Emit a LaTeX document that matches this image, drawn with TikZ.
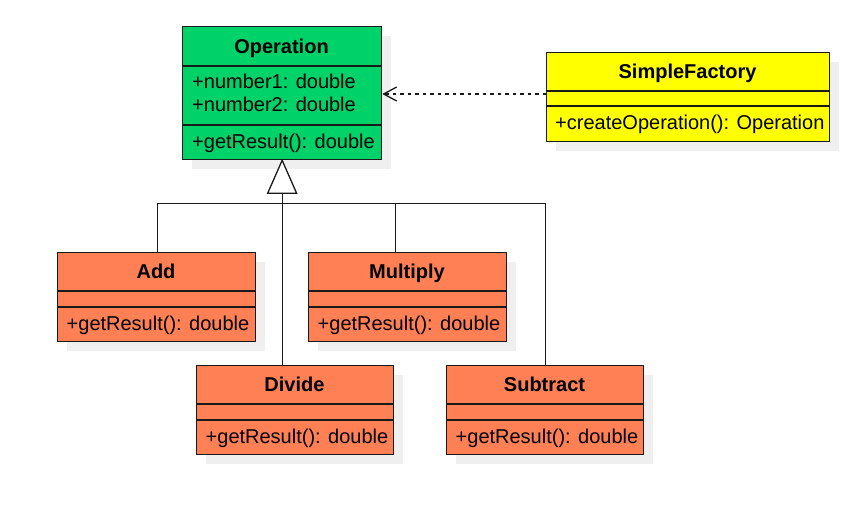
\documentclass[tikz,border=0pt]{standalone}
\usepackage{fontspec}
\setmainfont{Liberation Sans}
\usetikzlibrary{arrows.meta,calc}
\definecolor{opgreen}{HTML}{00D26A}
\definecolor{sfyellow}{HTML}{FFFF00}
\definecolor{suborange}{HTML}{FF8055}
\definecolor{shadowgrey}{HTML}{EFEFEF}
\definecolor{linegrey}{HTML}{1A1A1A}
\tikzset{
  classbox/.style={draw=linegrey, line width=1.3pt, anchor=north west, inner sep=0pt, rectangle},
  divider/.style={draw=linegrey, line width=1.3pt},
  titletext/.style={anchor=base, inner sep=0pt, font=\fontsize{20}{24}\selectfont\bfseries},
  membertext/.style={anchor=base west, inner sep=0pt, font=\fontsize{20}{24}\selectfont},
  edge/.style={draw=linegrey, line width=1.3pt},
  dep/.style={draw=linegrey, line width=1.3pt, dash pattern=on 3.5pt off 4pt, -{Straight Barb[length=13pt,width=14pt,line width=1.3pt]}},
}
% #1 name, #2 x, #3 y, #4 width, #5 height, #6 first divider, #7 second divider, #8 fill
\newcommand\umlbox[8]{%
  \fill[shadowgrey] (#2+10,#3+10) rectangle ++(#4,#5);
  \node[classbox, fill=#8, minimum width=#4pt, minimum height=#5pt] (#1) at (#2,#3) {};
  \draw[divider] ($(#1.north west)+(0,#6)$) -- ++(#4,0);
  \draw[divider] ($(#1.north west)+(0,#7)$) -- ++(#4,0);
}
\begin{document}
\begin{tikzpicture}[x=1pt,y=-1pt]
\useasboundingbox (0,0) rectangle (850,506);

\umlbox{op}{182}{26}{199}{133}{40}{99}{opgreen}
\umlbox{sf}{546}{52}{283}{89}{39}{54}{sfyellow}
\umlbox{add}{57}{252}{198}{89}{39}{55}{suborange}
\umlbox{mul}{308}{252}{198}{89}{39}{55}{suborange}
\umlbox{div}{196}{365}{197}{89}{39}{55}{suborange}
\umlbox{sub}{446}{365}{197}{89}{39}{55}{suborange}

% texts
\node[titletext] (optitle) at (281.5,53.5) {Operation};
\node[membertext] (opa1) at (192,88.5) {+number1: double};
\node[membertext] (opa2) at (192,111.5) {+number2: double};
\node[membertext] (opm) at (192,148) {+getResult(): double};

\node[titletext] (sftitle) at (687.5,78.5) {SimpleFactory};
\node[membertext] (sfm) at (555,129.5) {+createOperation(): Operation};

\node[titletext] (addtitle) at (156,278.5) {Add};
\node[membertext] (addm) at (66.5,330) {+getResult(): double};
\node[titletext] (multitle) at (407,278.5) {Multiply};
\node[membertext] (mulm) at (317.5,330) {+getResult(): double};
\node[titletext] (divtitle) at (294.5,391.5) {Divide};
\node[membertext] (divm) at (205.5,443) {+getResult(): double};
\node[titletext] (subtitle) at (544.5,391.5) {Subtract};
\node[membertext] (subm) at (455.5,443) {+getResult(): double};

% generalization
\coordinate (gbase) at ($(op.south)+(0,33)$);
\coordinate (junc) at ($(op.south)+(0,43.5)$);
\coordinate (addtop) at ($(add.north west)+(100.5,0)$);
\coordinate (multop) at ($(mul.north west)+(87.5,0)$);
\coordinate (subtop) at ($(sub.north west)+(99.5,0)$);
\draw[edge] (addtop) |- (junc) -- (gbase);
\draw[edge] (multop) |- (junc) -- (gbase);
\draw[edge] (subtop) |- (junc) -- (gbase);
\draw[edge] (gbase |- div.north) -- (gbase);
\draw[edge, fill=white] (op.south) -- ($(gbase)+(14.5,0)$) -- ($(gbase)+(-14.5,0)$) -- cycle;

% dependency
\draw[dep] ($(sf.north west)+(0,42)$) -- ($(op.north east)+(0,68)$);
\end{tikzpicture}
\end{document}
